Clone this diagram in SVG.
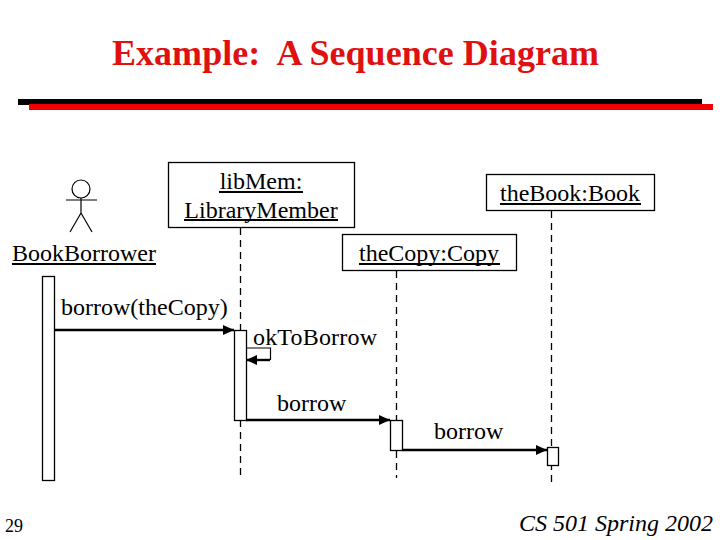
<svg xmlns="http://www.w3.org/2000/svg" width="720" height="540" viewBox="0 0 720 540">
<style>
text{font-family:"Liberation Serif","Times New Roman",serif;fill:#000;white-space:pre}
.l{font-size:24px;text-anchor:middle}
.lt{font-size:24px}
.box{fill:#fff;stroke:#000;stroke-width:1.3}
.life{stroke:#000;stroke-width:1.3;stroke-dasharray:7 5;fill:none}
.msg{stroke:#000;stroke-width:2.4;fill:none}
.ul{stroke:#000;stroke-width:2}
.st{stroke:#000;stroke-width:1.2;fill:none}
</style>
<defs>
<marker id="ah" markerUnits="userSpaceOnUse" markerWidth="12" markerHeight="12" refX="11" refY="6" orient="auto"><path d="M0 1L11 6L0 11Z" fill="#000"/></marker>
</defs>
<rect width="720" height="540" fill="#fff"/>
<text x="112" y="65" font-size="36" font-weight="bold" textLength="487" style="fill:#e01010">Example:  A Sequence Diagram</text>
<rect x="18" y="99" width="684" height="6" fill="#000"/>
<rect x="29" y="104" width="684" height="6" fill="#f00000"/>
<g id="lifelines">
<path class="life" d="M240.500 228V478"/>
<path class="life" d="M396.500 271V478"/>
<path class="life" d="M551.500 211V482"/>
</g>
<g id="actor">
<circle cx="81" cy="189" r="9" class="st"/>
<path class="st" d="M81 198V213M66 200H97M81 213L70 232M81 213L92 232"/>
<text class="l" x="84" y="261">BookBorrower</text>
<path class="ul" d="M12 264H156"/>
</g>
<g id="libMem">
<rect class="box" x="168.500" y="162.500" width="186" height="65"/>
<text class="l" x="261" y="189">libMem:</text>
<path class="ul" d="M219 192H303"/>
<text class="l" x="261" y="218">LibraryMember</text>
<path class="ul" d="M184 220H338"/>
</g>
<g id="theBook">
<rect class="box" x="486.500" y="174.500" width="168" height="36"/>
<text class="l" x="570" y="201">theBook:Book</text>
<path class="ul" d="M500 204H641"/>
</g>
<g id="theCopy">
<rect class="box" x="342.500" y="234.500" width="174" height="36"/>
<text class="l" x="429" y="261">theCopy:Copy</text>
<path class="ul" d="M359 264H500"/>
</g>
<g id="activations">
<rect class="box" x="42.500" y="276.500" width="12" height="204"/>
<rect class="box" x="234.500" y="330.500" width="12" height="90"/>
<rect class="box" x="390.500" y="420.500" width="12" height="30"/>
<rect class="box" x="547.500" y="447.500" width="11" height="18"/>
</g>
<g id="connectors">
<path class="msg" d="M54 330H234" marker-end="url(#ah)"/>
<path class="st" d="M246 348H270.500V360"/>
<path class="msg" d="M270 360H246" marker-end="url(#ah)"/>
<path class="msg" d="M246 420H390" marker-end="url(#ah)"/>
<path class="msg" d="M402 450H547" marker-end="url(#ah)"/>
</g>
<g id="labels">
<text class="lt" x="61" y="315">borrow(theCopy)</text>
<text class="lt" x="253" y="345" textLength="124">okToBorrow</text>
<text class="lt" x="277" y="411">borrow</text>
<text class="lt" x="434" y="439">borrow</text>
</g>
<text x="5" y="532" font-size="18">29</text>
<text x="519" y="531" font-size="24" font-style="italic">CS 501 Spring 2002</text>
</svg>
